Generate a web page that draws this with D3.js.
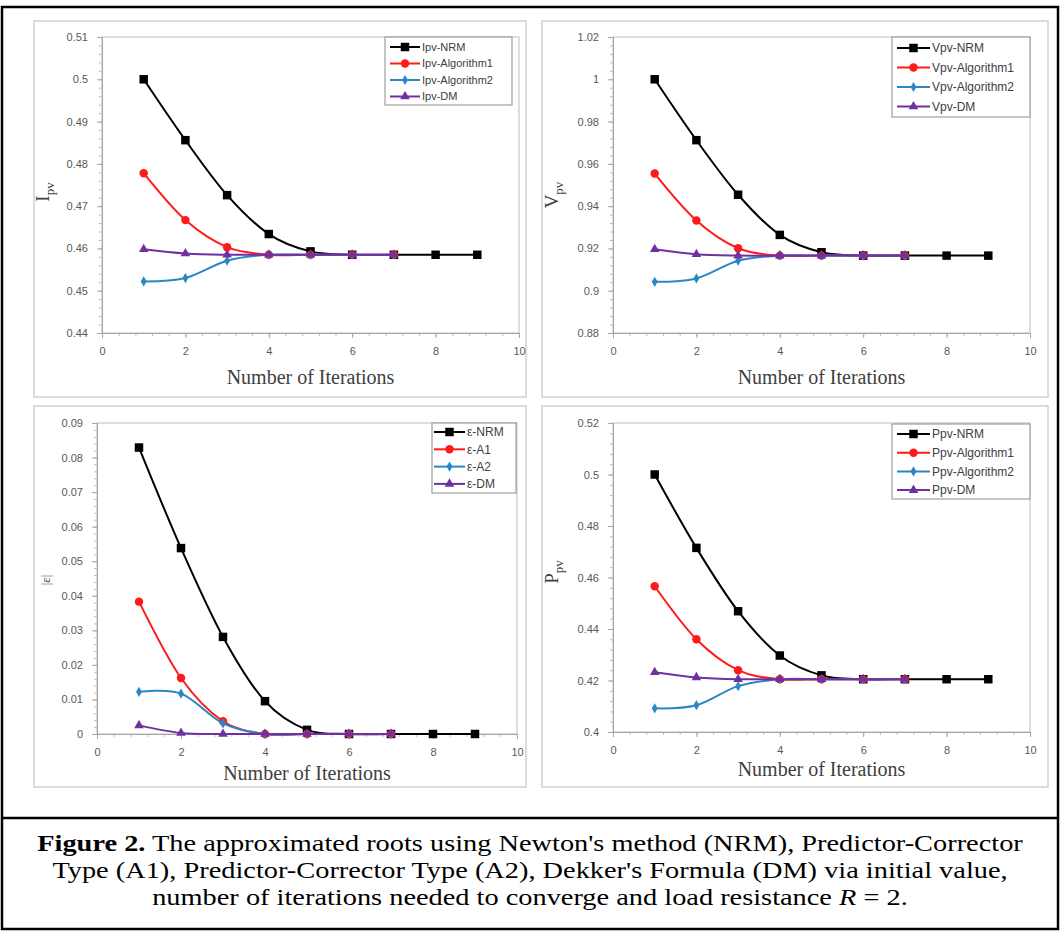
<!DOCTYPE html>
<html>
<head>
<meta charset="utf-8">
<script src="https://cdn.jsdelivr.net/npm/d3@7"></script>
<style>
  body { margin: 0; background: #fff; }
  svg { display: block; }
</style>
</head>
<body>
<svg id="fig" width="1061" height="936"></svg>
<script>
// data
const iterations = [1, 2, 3, 4, 5, 6, 7, 8, 9];
const shortIters = [1, 2, 3, 4, 5, 6, 7];

const ipvNRM = [0.5, 0.4856, 0.4726, 0.4634, 0.4593, 0.4585, 0.4585, 0.4585, 0.4585];
const ipvA1 = [0.4778, 0.4667, 0.4603, 0.4585, 0.4585, 0.4585, 0.4585];
const ipvA2 = [0.4522, 0.453, 0.4571, 0.4585, 0.4585, 0.4585, 0.4585];
const ipvDM = [0.4598, 0.4588, 0.4585, 0.4585, 0.4585, 0.4585, 0.4585];

const vpvNRM = [1.0, 0.9712, 0.9454, 0.9264, 0.9182, 0.9166, 0.9166, 0.9166, 0.9166];
const vpvA1 = [0.9554, 0.9332, 0.9201, 0.9166, 0.9166, 0.9166, 0.9166];
const vpvA2 = [0.9042, 0.9058, 0.9142, 0.9166, 0.9166, 0.9166, 0.9166];
const vpvDM = [0.9196, 0.9172, 0.9166, 0.9166, 0.9166, 0.9166, 0.9166];

const epsNRM = [0.0829, 0.0538, 0.0281, 0.0095, 0.0012, 0, 0, 0, 0];
const epsA1 = [0.0383, 0.0162, 0.0037, 0, 0, 0, 0];
const epsA2 = [0.0122, 0.0117, 0.0031, 0, 0, 0, 0];
const epsDM = [0.0025, 0.0003, 0, 0, 0, 0, 0];

const ppvNRM = [0.5, 0.4715, 0.4469, 0.4297, 0.422, 0.4205, 0.4205, 0.4205, 0.4205];
const ppvA1 = [0.4566, 0.436, 0.424, 0.4205, 0.4205, 0.4205, 0.4205];
const ppvA2 = [0.4092, 0.4104, 0.4178, 0.4205, 0.4205, 0.4205, 0.4205];
const ppvDM = [0.4232, 0.4212, 0.4205, 0.4205, 0.4205, 0.4205, 0.4205];

const legendI = ["Ipv-NRM", "Ipv-Algorithm1", "Ipv-Algorithm2", "Ipv-DM"];
const legendV = ["Vpv-NRM", "Vpv-Algorithm1", "Vpv-Algorithm2", "Vpv-DM"];
const legendE = ["ε-NRM", "ε-A1", "ε-A2", "ε-DM"];
const legendP = ["Ppv-NRM", "Ppv-Algorithm1", "Ppv-Algorithm2", "Ppv-DM"];

const xTicks = [0, 2, 4, 6, 8, 10];

const captionLines = [
  [["Figure 2.", "bold"], [" The approximated roots using Newton's method (NRM), Predictor-Corrector", ""]],
  [["Type (A1), Predictor-Corrector Type (A2), Dekker's Formula (DM) via initial value,", ""]],
  [["number of iterations needed to converge and load resistance ", ""], ["R", "italic"], [" = 2.", ""]],
];

// styles per series: NRM, A1, A2, DM
const seriesStyle = [
  { color: "#000000", symbol: d3.symbolSquare, size: 72 },
  { color: "#ff1a1a", symbol: d3.symbolCircle, size: 56 },
  { color: "#2b86c5", symbol: d3.symbolDiamond, size: 30 },
  { color: "#7030a0", symbol: d3.symbolTriangle, size: 40 },
];

const svg = d3.select("#fig");

// outer black frame + caption separator
svg.append("rect")
  .attr("x", 2).attr("y", 7).attr("width", 1056).attr("height", 922)
  .attr("fill", "none").attr("stroke", "#000").attr("stroke-width", 2.5);
svg.append("line")
  .attr("x1", 2).attr("x2", 1058).attr("y1", 818).attr("y2", 818)
  .attr("stroke", "#000").attr("stroke-width", 2.5);

const panels = [
  {
    frame: [34, 21, 492, 376], plot: [102, 37, 519, 333],
    yDomain: [0.44, 0.51], yStep: 0.01, minorY: 0.002,
    data: [[iterations, ipvNRM], [shortIters, ipvA1], [shortIters, ipvA2], [shortIters, ipvDM]],
    legend: { labels: legendI, x: 385, y: 37, w: 127, h: 68, row0: 47, step: 16.5, l0: 390, l1: 420, font: 11 },
    yLabel: { main: "I", sub: "pv", x: 49, y: 192, size: 19 },
    xTitleY: 384,
  },
  {
    frame: [542, 21, 506, 376], plot: [613, 37, 1030, 333],
    yDomain: [0.88, 1.02], yStep: 0.02, minorY: 0.004,
    data: [[iterations, vpvNRM], [shortIters, vpvA1], [shortIters, vpvA2], [shortIters, vpvDM]],
    legend: { labels: legendV, x: 892, y: 37, w: 138, h: 80, row0: 48, step: 19.5, l0: 897, l1: 930, font: 12 },
    yLabel: { main: "V", sub: "pv", x: 558, y: 195, size: 19 },
    xTitleY: 384,
  },
  {
    frame: [34, 406, 492, 381], plot: [97, 423, 517, 734],
    yDomain: [0, 0.09], yStep: 0.01, minorY: 0.002,
    data: [[iterations, epsNRM], [shortIters, epsA1], [shortIters, epsA2], [shortIters, epsDM]],
    legend: { labels: legendE, x: 432, y: 423, w: 84, h: 70, row0: 432, step: 17.3, l0: 434, l1: 465, font: 12 },
    yLabel: { main: "|ε|", sub: "", x: 50, y: 580, size: 13 },
    xTitleY: 780,
  },
  {
    frame: [542, 406, 506, 381], plot: [613, 423, 1030, 732],
    yDomain: [0.4, 0.52], yStep: 0.02, minorY: 0.004,
    data: [[iterations, ppvNRM], [shortIters, ppvA1], [shortIters, ppvA2], [shortIters, ppvDM]],
    legend: { labels: legendP, x: 892, y: 424, w: 138, h: 75, row0: 434, step: 18.7, l0: 897, l1: 930, font: 12 },
    yLabel: { main: "P", sub: "pv", x: 558, y: 572, size: 19 },
    xTitleY: 776,
  },
];

const tickFmt = (v) => String(+v.toFixed(4));

panels.forEach((p) => {
  const g = svg.append("g");
  const [fx, fy, fw, fh] = p.frame;
  g.append("rect")
    .attr("x", fx).attr("y", fy).attr("width", fw).attr("height", fh)
    .attr("fill", "#fff").attr("stroke", "#d0d0d0").attr("stroke-width", 1.5);

  const [x0, y0, x1, y1] = p.plot;
  const x = d3.scaleLinear().domain([0, 10]).range([x0, x1]);
  const y = d3.scaleLinear().domain(p.yDomain).range([y1, y0]);

  // plot area border
  g.append("rect")
    .attr("x", x0).attr("y", y0).attr("width", x1 - x0).attr("height", y1 - y0)
    .attr("fill", "none").attr("stroke", "#bdbdbd").attr("stroke-width", 1);

  const yTicks = d3.range(p.yDomain[0], p.yDomain[1] + p.yStep / 2, p.yStep);
  const yMinor = d3.range(p.yDomain[0], p.yDomain[1] + p.minorY / 2, p.minorY);
  const xMinor = d3.range(0, 10.2, 0.4);

  // minor ticks
  g.append("g").attr("transform", `translate(${x0},0)`)
    .call(d3.axisLeft(y).tickValues(yMinor).tickSize(3).tickFormat(""))
    .call((a) => a.select(".domain").remove())
    .selectAll("line").attr("stroke", "#bdbdbd");
  g.append("g").attr("transform", `translate(0,${y1})`)
    .call(d3.axisBottom(x).tickValues(xMinor).tickSize(3).tickFormat(""))
    .call((a) => a.select(".domain").remove())
    .selectAll("line").attr("stroke", "#bdbdbd");

  // major axes
  const ya = g.append("g").attr("transform", `translate(${x0},0)`)
    .call(d3.axisLeft(y).tickValues(yTicks).tickSize(5).tickPadding(9).tickFormat(tickFmt));
  const xa = g.append("g").attr("transform", `translate(0,${y1})`)
    .call(d3.axisBottom(x).tickValues(xTicks).tickSize(5).tickPadding(9).tickFormat(tickFmt));
  [ya, xa].forEach((a) => {
    a.select(".domain").attr("stroke", "#a6a6a6");
    a.selectAll("line").attr("stroke", "#a6a6a6");
    a.selectAll("text")
      .attr("fill", "#595959")
      .style("font-family", "'Liberation Sans', Arial, sans-serif")
      .style("font-size", "11px");
  });

  // series
  const line = d3.line()
    .x((d) => x(d[0])).y((d) => y(d[1]))
    .curve(d3.curveCatmullRom.alpha(0));
  p.data.forEach(([xs, ys], i) => {
    const st = seriesStyle[i];
    const pts = xs.map((v, k) => [v, ys[k]]);
    g.append("path").datum(pts)
      .attr("d", line)
      .attr("fill", "none").attr("stroke", st.color).attr("stroke-width", 2);
    g.selectAll(null).data(pts).join("path")
      .attr("transform", (d) => `translate(${x(d[0])},${y(d[1])})`)
      .attr("d", d3.symbol(st.symbol, st.size))
      .attr("fill", st.color);
  });

  // legend
  const L = p.legend;
  const lg = g.append("g");
  lg.append("rect")
    .attr("x", L.x).attr("y", L.y).attr("width", L.w).attr("height", L.h)
    .attr("fill", "#fff").attr("stroke", "#8c8c8c").attr("stroke-width", 1);
  L.labels.forEach((lab, i) => {
    const st = seriesStyle[i];
    const ry = L.row0 + i * L.step;
    lg.append("line")
      .attr("x1", L.l0).attr("x2", L.l1).attr("y1", ry).attr("y2", ry)
      .attr("stroke", st.color).attr("stroke-width", 2);
    lg.append("path")
      .attr("transform", `translate(${(L.l0 + L.l1) / 2},${ry})`)
      .attr("d", d3.symbol(st.symbol, st.size))
      .attr("fill", st.color);
    lg.append("text")
      .attr("x", L.l1 + 2).attr("y", ry).attr("dy", "0.35em")
      .attr("fill", "#404040")
      .style("font-family", "'Liberation Sans', Arial, sans-serif")
      .style("font-size", L.font + "px")
      .text(lab);
  });

  // axis titles
  g.append("text")
    .attr("x", (x0 + x1) / 2).attr("y", p.xTitleY)
    .attr("text-anchor", "middle").attr("fill", "#404040")
    .style("font-family", "'Liberation Serif', 'Times New Roman', serif")
    .style("font-size", "20px")
    .text("Number of Iterations");

  const yl = g.append("text")
    .attr("transform", `translate(${p.yLabel.x},${p.yLabel.y}) rotate(-90)`)
    .attr("text-anchor", "middle").attr("fill", "#404040")
    .style("font-family", "'Liberation Serif', 'Times New Roman', serif")
    .style("font-size", p.yLabel.size + "px");
  yl.append("tspan").text(p.yLabel.main);
  if (p.yLabel.sub) {
    yl.append("tspan").attr("dy", 5).style("font-size", "13px").text(p.yLabel.sub);
  }
});

// caption, fitted so the first line runs edge to edge like in the figure
const capLines = [];
const cap = svg.append("g")
  .style("font-family", "'Liberation Serif', 'Times New Roman', serif")
  .style("font-size", "23px");
captionLines.forEach((parts, i) => {
  const t = cap.append("text")
    .attr("x", 0).attr("y", 0)
    .attr("text-anchor", "middle").attr("fill", "#000")
    .attr("data-y", 851 + i * 27);
  parts.forEach(([s, style]) => {
    const ts = t.append("tspan").text(s);
    if (style === "bold") ts.style("font-weight", "bold");
    if (style === "italic") ts.style("font-style", "italic");
  });
  capLines.push(t);
});
const sx = 986 / capLines[0].node().getComputedTextLength();
capLines.forEach((t) => {
  t.attr("transform", `translate(530,${t.attr("data-y")}) scale(${sx},1)`);
});
</script>
</body>
</html>
